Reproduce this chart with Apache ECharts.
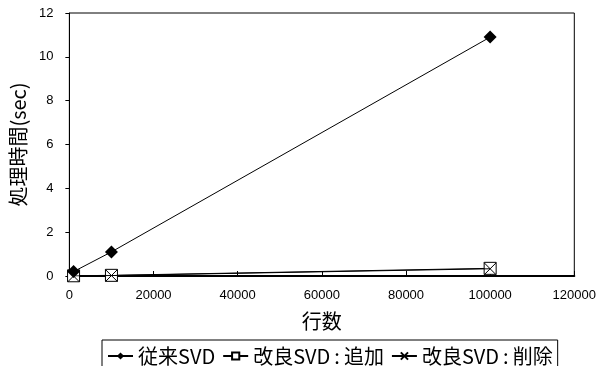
<!DOCTYPE html>
<html><head><meta charset="utf-8">
<script src="https://cdn.jsdelivr.net/npm/echarts@6/dist/echarts.min.js"></script>
<style>html,body{margin:0;padding:0;background:#fff}#c{width:599px;height:366px}</style>
</head><body><div id="c"></div>
<script>
const rows = [1000, 10000, 100000];
const seriesNames = ['従来SVD', '改良SVD:追加', '改良SVD:削除'];
const conventional = [0.2, 1.1, 10.9];
const improvedAdd = [0.01, 0.03, 0.35];
const improvedDel = [0.0, 0.02, 0.33];
const xTicks = [0, 20000, 40000, 60000, 80000, 100000, 120000];
const yTicks = [0, 2, 4, 6, 8, 10, 12];

const F = '"Noto Sans CJK JP", "Liberation Sans", sans-serif';
const N = '"Liberation Sans", Arial, sans-serif';
const pair = (xs, ys) => xs.map((x, i) => [x, ys[i]]);
const chart = echarts.init(document.getElementById('c'));
chart.setOption({
  animation: false,
  grid: {left: 69, right: 23, top: 13, bottom: 90, show: true, borderColor: '#000', borderWidth: 1},
  xAxis: {
    type: 'value', min: xTicks[0], max: xTicks[xTicks.length-1], interval: 20000,
    name: '行数', nameLocation: 'middle', nameGap: 35,
    nameTextStyle: {fontFamily: F, fontSize: 20, color: '#000'},
    axisLine: {lineStyle: {color: '#000', width: 2}},
    axisTick: {inside: true, length: 5, lineStyle: {color: '#000'}},
    axisLabel: {fontFamily: N, fontSize: 13, color: '#000', margin: 13, formatter: v => String(v)},
    splitLine: {show: false}
  },
  yAxis: {
    type: 'value', min: yTicks[0], max: yTicks[yTicks.length-1], interval: 2,
    name: '処理時間(sec)', nameLocation: 'middle', nameGap: 33, nameRotate: 90,
    nameTextStyle: {fontFamily: F, fontSize: 20, color: '#000'},
    axisLine: {lineStyle: {color: '#000', width: 1}},
    axisTick: {inside: false, length: 4, lineStyle: {color: '#000'}},
    axisLabel: {fontFamily: N, fontSize: 13, color: '#000', margin: 16, formatter: v => String(v)},
    splitLine: {show: false}
  },
  legend: {
    left: 102, top: 340, itemGap: 7, itemWidth: 25, itemHeight: 9,
    borderColor: '#000', borderWidth: 1, padding: [6, 5, 6, 5],
    textStyle: {fontFamily: F, fontSize: 20, color: '#000', rich: {c: {fontFamily: F, fontSize: 20, color: '#000', padding: [0, 4, 0, 4]}}},
    formatter: name => name.replace(':', '{c|:}'),
    data: seriesNames
  },
  series: [
    {name: seriesNames[0], type: 'line', data: pair(rows, conventional),
     symbol: 'diamond', symbolSize: 13,
     lineStyle: {color: '#000', width: 1}, itemStyle: {color: '#000'}, z: 3},
    {name: seriesNames[1], type: 'line', data: pair(rows, improvedAdd),
     symbol: 'rect', symbolSize: 12,
     lineStyle: {color: '#000', width: 1}, itemStyle: {color: '#fff', borderColor: '#000', borderWidth: 1}, z: 2},
    {name: seriesNames[2], type: 'line', data: pair(rows, improvedDel),
     symbol: 'path://M0,0L10,10M10,0L0,10', symbolSize: 12,
     lineStyle: {color: '#000', width: 1}, itemStyle: {color: 'none', borderColor: '#000', borderWidth: 1}, z: 4}
  ]
});
</script></body></html>
